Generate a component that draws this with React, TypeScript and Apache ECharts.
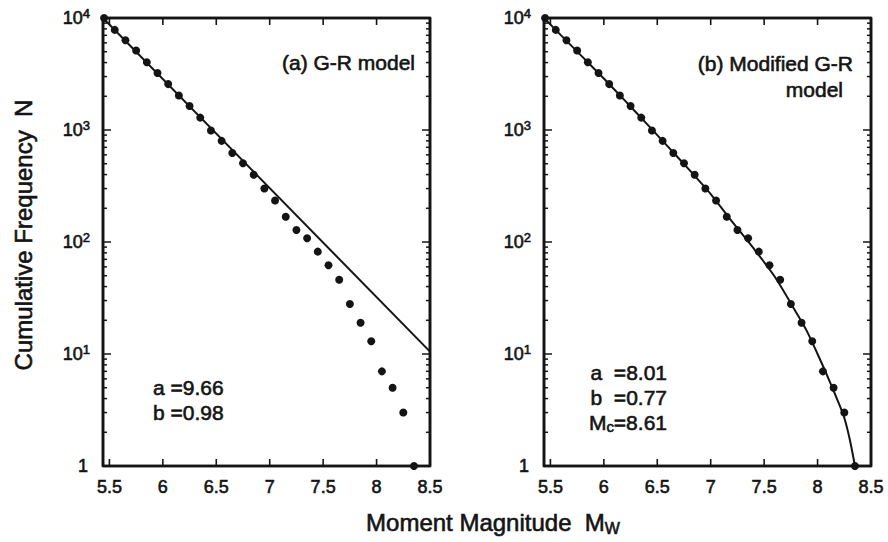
import React, { useEffect, useRef } from "react";
import * as echarts from "echarts";

// Earthquake magnitudes (bin centres) and cumulative frequency N(>= M)
const magnitudes = [
  5.45, 5.55, 5.65, 5.75, 5.85, 5.95, 6.05, 6.15, 6.25, 6.35,
  6.45, 6.55, 6.65, 6.75, 6.85, 6.95, 7.05, 7.15, 7.25, 7.35,
  7.45, 7.55, 7.65, 7.75, 7.85, 7.95, 8.05, 8.15, 8.25, 8.35,
];
const cumulativeCounts = [
  10000, 7830, 6330, 5120, 4020, 3230, 2570, 2030, 1640, 1290,
  990, 800, 624, 504, 399, 300, 235, 168, 128, 108,
  82, 62, 46, 28, 19, 13, 7, 5, 3, 1,
];

// Straight Gutenberg-Richter fit (panel a)
const grLineM = [5.44, 8.5];
const grLineN = [10000, 10.5];

// Modified G-R fit (panel b)
const modCurveM = [
  5.44, 5.6, 5.8, 6.0, 6.2, 6.4, 6.6, 6.8, 7.0, 7.2,
  7.4, 7.6, 7.8, 7.9, 8.0, 8.1, 8.2, 8.25, 8.3, 8.35,
];
const modCurveN = [
  10000, 7000, 4500, 2880, 1820, 1140, 710, 440, 268, 152,
  88, 49, 23.5, 16, 10, 6.1, 3.6, 2.7, 1.75, 1,
];

// Axis ticks
const xTicks = [5.5, 6, 6.5, 7, 7.5, 8, 8.5];
const yDecades = [1, 10, 100, 1000, 10000];
const yMinorSteps = [2, 3, 4, 5, 6, 7, 8, 9];
const xMin = 5.44;
const xMax = 8.5;
const yMin = 1;
const yMax = 10000;

const FONT = "'Liberation Sans', Arial, Helvetica, sans-serif";
const INK = "#141414";
const HEAVY = { textBorderColor: INK, textBorderWidth: 0.6 };

const pairs = (xs: number[], ys: number[]) => xs.map((x, i) => [x, ys[i]]);

// y tick values: decades plus 2..9 within each decade
const yTickValues = [
  ...yDecades,
  ...yDecades.slice(0, -1).flatMap((d) => yMinorSteps.map((s) => d * s)),
];

// Inward tick marks as thin rectangles anchored on the frame edges
const X_TICK_LEN = 7;
const Y_MAJOR_LEN = 8;
const Y_MINOR_LEN = 4;
const tickMarks = [
  ...xTicks.flatMap((v) => [
    { value: [v, yMin], symbolSize: [1.6, X_TICK_LEN], symbolOffset: [0, -X_TICK_LEN / 2] },
    { value: [v, yMax], symbolSize: [1.6, X_TICK_LEN], symbolOffset: [0, X_TICK_LEN / 2] },
  ]),
  ...yTickValues.flatMap((v) => {
    const len = yDecades.includes(v) ? Y_MAJOR_LEN : Y_MINOR_LEN;
    return [
      { value: [xMin, v], symbolSize: [len, 1.5], symbolOffset: [len / 2, 0] },
      { value: [xMax, v], symbolSize: [len, 1.5], symbolOffset: [-len / 2, 0] },
    ];
  }),
];

const frameCorners = [
  [xMin, yMin],
  [xMax, yMin],
  [xMax, yMax],
  [xMin, yMax],
  [xMin, yMin],
];

function axesFor(gridIndex: number) {
  const xAxis = {
    type: "value",
    gridIndex,
    min: xMin,
    max: xMax,
    splitLine: { show: false },
    axisLine: { show: false },
    axisTick: { show: false },
    axisLabel: {
      show: true,
      customValues: xTicks,
      margin: 12,
      color: INK,
      fontFamily: FONT,
      fontSize: 18,
      ...HEAVY,
      formatter: (v: number) => String(v),
    },
  };
  const yAxis = {
    type: "log",
    logBase: 10,
    gridIndex,
    min: yMin,
    max: yMax,
    splitLine: { show: false },
    axisLine: { show: false },
    axisTick: { show: false },
    axisLabel: {
      show: true,
      margin: 13,
      color: INK,
      fontFamily: FONT,
      formatter: (v: number) => {
        const p = Math.round(Math.log10(v));
        return p === 0 ? "{one|1}" : `{n|10}{sup|${p}}`;
      },
      rich: {
        n: { fontSize: 18, lineHeight: 22, fontFamily: FONT, color: INK, ...HEAVY },
        one: { fontSize: 18, lineHeight: 22, fontFamily: FONT, color: INK, padding: [0, 2, 0, 0], ...HEAVY },
        sup: { fontSize: 13, lineHeight: 11, verticalAlign: "top", fontFamily: FONT, color: INK, ...HEAVY },
      },
    },
  };
  return { xAxis, yAxis };
}

function frameSeries(axisIndex: number) {
  return [
    {
      type: "line",
      name: "frame",
      xAxisIndex: axisIndex,
      yAxisIndex: axisIndex,
      data: frameCorners,
      showSymbol: false,
      clip: false,
      silent: true,
      lineStyle: { color: INK, width: 2.6 },
      z: 5,
    },
    {
      type: "scatter",
      name: "ticks",
      xAxisIndex: axisIndex,
      yAxisIndex: axisIndex,
      data: tickMarks,
      symbol: "rect",
      clip: false,
      silent: true,
      itemStyle: { color: INK, opacity: 1 },
      z: 5,
    },
  ];
}

export default function App() {
  const ref = useRef<HTMLDivElement>(null);

  useEffect(() => {
    if (!ref.current) return;
    const chart = echarts.init(ref.current, undefined, { renderer: "svg" });

    const a0 = axesFor(0);
    const a1 = axesFor(1);
    const points = pairs(magnitudes, cumulativeCounts);

    const annot = (text: string, x: number, y: number, align: string, rich?: any) => ({
      type: "text",
      x,
      y,
      style: {
        text,
        x: 0,
        y: 0,
        align,
        verticalAlign: "middle",
        fill: INK,
        stroke: INK,
        lineWidth: 0.6,
        font: `21px ${FONT}`,
        rich,
      },
    });

    const subRich = {
      m: { fontSize: 21, lineHeight: 24, fontFamily: FONT, fill: INK },
      s: { fontSize: 15, lineHeight: 12, verticalAlign: "bottom", fontFamily: FONT, fill: INK },
    };

    chart.setOption({
      animation: false,
      grid: [
        { left: 103, top: 18, width: 327, height: 448, show: true, borderColor: INK, borderWidth: 2.5 },
        { left: 544, top: 18, width: 327, height: 448, show: true, borderColor: INK, borderWidth: 2.5 },
      ],
      xAxis: [a0.xAxis, a1.xAxis],
      yAxis: [a0.yAxis, a1.yAxis],
      series: [
        ...frameSeries(0),
        ...frameSeries(1),
        {
          type: "line",
          name: "G-R model",
          xAxisIndex: 0,
          yAxisIndex: 0,
          data: pairs(grLineM, grLineN),
          showSymbol: false,
          lineStyle: { color: INK, width: 2 },
          z: 3,
        },
        {
          type: "scatter",
          name: "observed (a)",
          xAxisIndex: 0,
          yAxisIndex: 0,
          data: points,
          symbol: "circle",
          symbolSize: 8,
          itemStyle: { color: INK, opacity: 1 },
          clip: false,
          z: 4,
        },
        {
          type: "line",
          name: "Modified G-R model",
          xAxisIndex: 1,
          yAxisIndex: 1,
          data: pairs(modCurveM, modCurveN),
          smooth: 0.25,
          showSymbol: false,
          lineStyle: { color: INK, width: 2 },
          z: 3,
        },
        {
          type: "scatter",
          name: "observed (b)",
          xAxisIndex: 1,
          yAxisIndex: 1,
          data: points,
          symbol: "circle",
          symbolSize: 8,
          itemStyle: { color: INK, opacity: 1 },
          clip: false,
          z: 4,
        },
      ],
      graphic: [
        {
          type: "text",
          x: 23,
          y: 235,
          rotation: Math.PI / 2,
          style: {
            text: "Cumulative Frequency  N",
            x: 0,
            y: 0,
            align: "center",
            verticalAlign: "middle",
            fill: INK,
            stroke: INK,
            lineWidth: 0.6,
            font: `24px ${FONT}`,
          },
        },
        {
          type: "text",
          x: 493,
          y: 522,
          style: {
            text: "{m|Moment Magnitude  M}{s|W}",
            x: 0,
            y: 0,
            align: "center",
            verticalAlign: "middle",
            fill: INK,
            stroke: INK,
            lineWidth: 0.6,
            rich: {
              m: { fontSize: 24, lineHeight: 28, fontFamily: FONT, fill: INK },
              s: { fontSize: 16, lineHeight: 12, verticalAlign: "bottom", fontFamily: FONT, fill: INK },
            },
          },
        },
        annot("(a) G-R model", 415, 62, "right"),
        annot("a =9.66", 153, 387, "left"),
        annot("b =0.98", 153, 412, "left"),
        annot("(b) Modified G-R", 853, 63, "right"),
        annot("model", 843, 89, "right"),
        annot("a  =8.01", 667, 372, "right"),
        annot("b  =0.77", 667, 397, "right"),
        annot("{m|M}{s|c}{m|=8.61}", 667, 422, "right", subRich),
      ],
    });

    return () => chart.dispose();
  }, []);

  return (
    <div
      ref={ref}
      style={{ position: "absolute", left: 0, top: 0, width: 888, height: 542 }}
    />
  );
}
